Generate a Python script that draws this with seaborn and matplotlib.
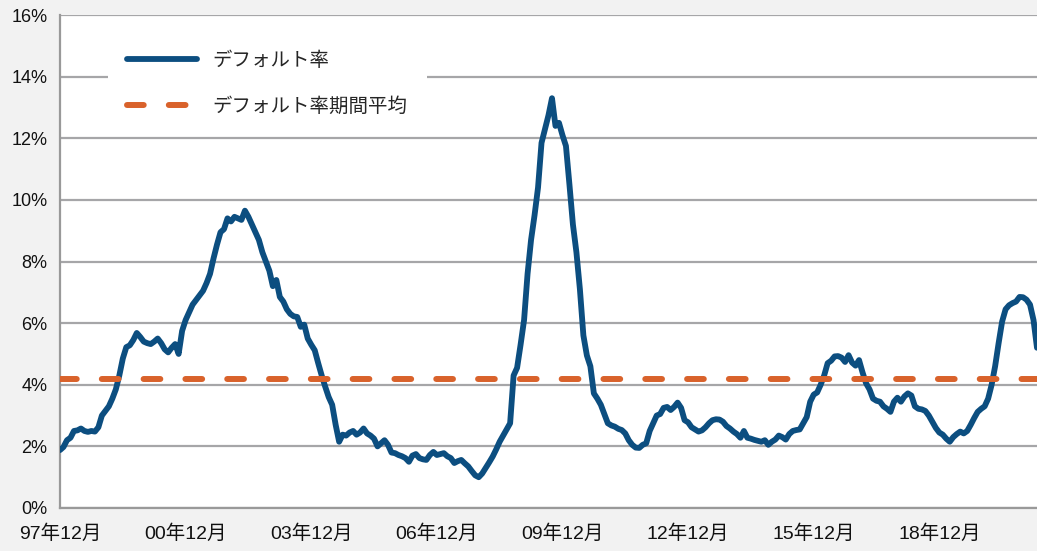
import numpy as np
import pandas as pd
import matplotlib
matplotlib.use('Agg')
import matplotlib.pyplot as plt
import seaborn as sns

# monthly default rate (%), Dec 1997 onward
rate_1998 = [1.88, 1.98, 2.20, 2.28, 2.50, 2.52, 2.58, 2.50, 2.47, 2.50, 2.48, 2.62]
rate_1999 = [3.00, 3.15, 3.30, 3.55, 3.85, 4.30, 4.85, 5.22, 5.28, 5.45, 5.68, 5.55]
rate_2000 = [5.40, 5.35, 5.32, 5.40, 5.50, 5.35, 5.15, 5.05, 5.20, 5.32, 5.00, 5.75]
rate_2001 = [6.10, 6.35, 6.60, 6.75, 6.90, 7.05, 7.30, 7.60, 8.10, 8.55, 8.95, 9.05]
rate_2002 = [9.40, 9.30, 9.45, 9.40, 9.35, 9.65, 9.45, 9.20, 8.95, 8.70, 8.30, 8.00]
rate_2003 = [7.70, 7.20, 7.40, 6.85, 6.70, 6.45, 6.30, 6.22, 6.20, 5.88, 5.95, 5.50]
rate_2004 = [5.30, 5.12, 4.70, 4.30, 3.94, 3.60, 3.35, 2.70, 2.15, 2.38, 2.35, 2.45]
rate_2005 = [2.50, 2.38, 2.45, 2.58, 2.42, 2.35, 2.25, 2.00, 2.10, 2.20, 2.05, 1.80]
rate_2006 = [1.78, 1.72, 1.68, 1.62, 1.50, 1.70, 1.75, 1.62, 1.58, 1.56, 1.72, 1.82]
rate_2007 = [1.72, 1.75, 1.78, 1.68, 1.62, 1.46, 1.52, 1.56, 1.45, 1.35, 1.20, 1.06]
rate_2008 = [1.00, 1.12, 1.30, 1.48, 1.67, 1.90, 2.15, 2.35, 2.55, 2.75, 4.30, 4.55]
rate_2009 = [5.30, 6.10, 7.60, 8.70, 9.50, 10.40, 11.85, 12.30, 12.75, 13.30, 12.40, 12.50]
rate_2010 = [12.10, 11.75, 10.50, 9.20, 8.30, 7.10, 5.60, 4.95, 4.60, 3.72, 3.55, 3.35]
rate_2011 = [3.05, 2.75, 2.68, 2.64, 2.57, 2.53, 2.42, 2.20, 2.05, 1.96, 1.95, 2.05]
rate_2012 = [2.10, 2.50, 2.75, 3.00, 3.05, 3.25, 3.28, 3.18, 3.28, 3.42, 3.25, 2.85]
rate_2013 = [2.78, 2.62, 2.55, 2.48, 2.52, 2.62, 2.75, 2.85, 2.88, 2.87, 2.80, 2.66]
rate_2014 = [2.58, 2.48, 2.40, 2.28, 2.50, 2.28, 2.25, 2.21, 2.18, 2.15, 2.20, 2.05]
rate_2015 = [2.15, 2.22, 2.35, 2.30, 2.22, 2.40, 2.50, 2.53, 2.55, 2.75, 2.95, 3.45]
rate_2016 = [3.68, 3.75, 4.00, 4.30, 4.70, 4.78, 4.92, 4.93, 4.88, 4.74, 4.96, 4.72]
rate_2017 = [4.62, 4.80, 4.40, 4.05, 3.85, 3.55, 3.48, 3.45, 3.30, 3.22, 3.12, 3.45]
rate_2018 = [3.58, 3.45, 3.62, 3.72, 3.65, 3.30, 3.22, 3.20, 3.15, 3.00, 2.80, 2.60]
rate_2019 = [2.45, 2.38, 2.25, 2.15, 2.30, 2.40, 2.48, 2.42, 2.50, 2.70, 2.92, 3.12]
rate_2020 = [3.22, 3.30, 3.55, 4.00, 4.60, 5.35, 6.05, 6.45, 6.58, 6.65, 6.70, 6.85]
rate_2021 = [6.84, 6.76, 6.60, 6.10, 5.20]

AVG_RATE = 4.2  # period average (dashed line)

tick_labels = ['97年12月', '00年12月', '03年12月', '06年12月',
               '09年12月', '12年12月', '15年12月', '18年12月']
y_ticks = [0, 2, 4, 6, 8, 10, 12, 14, 16]

series = (rate_1998 + rate_1999 + rate_2000 + rate_2001 + rate_2002 + rate_2003
          + rate_2004 + rate_2005 + rate_2006 + rate_2007 + rate_2008 + rate_2009
          + rate_2010 + rate_2011 + rate_2012 + rate_2013 + rate_2014 + rate_2015
          + rate_2016 + rate_2017 + rate_2018 + rate_2019 + rate_2020 + rate_2021)
df = pd.DataFrame({'month': np.arange(len(series)), 'rate': series})

sns.set_theme(style='white')
plt.rcParams['font.family'] = ['Liberation Sans', 'Noto Sans CJK JP', 'DejaVu Sans']

BLUE = '#0c4e80'
ORANGE = '#d9622b'
GRID = '#a6a6a8'

fig = plt.figure(figsize=(10.37, 5.51), dpi=100, facecolor='#f2f2f2')
ax = fig.add_axes([60 / 1037, 43 / 551, 977 / 1037, 493 / 551])
ax.set_facecolor('white')

sns.lineplot(data=df, x='month', y='rate', ax=ax, color=BLUE, linewidth=4.2,
             label='デフォルト率', solid_joinstyle='round', solid_capstyle='round', zorder=3)
ax.axhline(AVG_RATE, color=ORANGE, linewidth=4.3, dashes=(2.8, 4.2),
           dash_capstyle='round', label='デフォルト率期間平均', zorder=4)

ax.set_xlim(0, 280)
ax.set_ylim(0, 16)
ax.set_xticks(np.arange(len(tick_labels)) * 36)
ax.set_xticklabels(tick_labels)
ax.set_yticks(y_ticks)
ax.set_yticklabels([f'{v}%' for v in y_ticks])
ax.set_xlabel('')
ax.set_ylabel('')

ax.yaxis.grid(True, color=GRID, linewidth=1.6, zorder=0)
ax.set_axisbelow(True)
for side in ['top', 'right']:
    ax.spines[side].set_visible(False)
for side in ['left', 'bottom']:
    ax.spines[side].set_color('#999999')
    ax.spines[side].set_linewidth(1.6)
ax.tick_params(axis='both', which='both', direction='out', length=5, width=1.4,
               color='#999999', labelsize=13, labelcolor='#111111', pad=4)
ax.tick_params(axis='x', labelsize=14, pad=7)

ax.legend(loc='upper left', bbox_to_anchor=(0.049, 0.966), borderaxespad=0,
          frameon=True, facecolor='white', edgecolor='none', framealpha=1,
          fontsize=14, handlelength=3.6, handletextpad=0.8, labelspacing=1.4,
          borderpad=1.0)

fig.savefig('out.png', dpi=100, facecolor=fig.get_facecolor())
